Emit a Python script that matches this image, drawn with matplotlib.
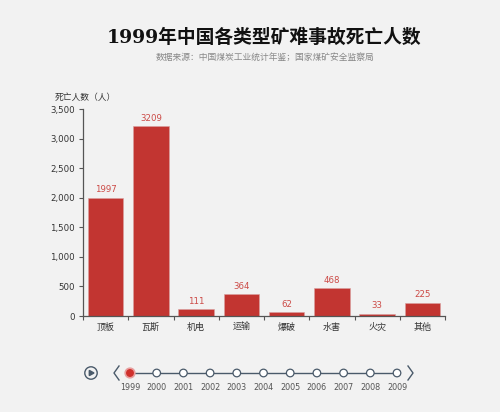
import matplotlib
matplotlib.use("Agg")
import matplotlib.pyplot as plt
from matplotlib.patches import Circle

plt.rcParams["font.family"] = ["Noto Sans CJK SC", "DejaVu Sans"]

# 1999 data
CATEGORIES = ["顶板", "瓦斯", "机电", "运输", "爆破", "水害", "火灾", "其他"]
DEATHS = [1997, 3209, 111, 364, 62, 468, 33, 225]
YEARS = ["1999", "2000", "2001", "2002", "2003", "2004", "2005",
         "2006", "2007", "2008", "2009"]
CURRENT_YEAR = "1999"

TITLE = "1999年中国各类型矿难事故死亡人数"
SUBTITLE = "数据来源：中国煤炭工业统计年鉴；国家煤矿安全监察局"
YLABEL = "死亡人数（人）"

BG = "#f2f2f2"
BAR = "#c23531"
AXIS = "#555555"

W, H = 500, 412
fig = plt.figure(figsize=(W / 100, H / 100), dpi=100, facecolor=BG)

ax = fig.add_axes([83 / W, 1 - 316 / H, 362 / W, 207 / H])
ax.set_facecolor(BG)
x = range(len(CATEGORIES))
ax.bar(x, DEATHS, width=0.78, color=BAR, edgecolor="#d9a0a0", linewidth=0.4)
for xi, v in zip(x, DEATHS):
    ax.text(xi, v + 60, str(v), ha="center", va="bottom",
            fontsize=6.2, color="#cc4a46", family="DejaVu Sans")
ax.set_xlim(-0.5, len(CATEGORIES) - 0.5)
ax.set_ylim(0, 3500)
ax.set_yticks(range(0, 3501, 500))
ax.set_yticklabels([f"{v:,}" for v in range(0, 3501, 500)],
                   fontsize=6.2, color="#333333", family="DejaVu Sans")
ax.set_xticks(list(x))
ax.set_xticklabels(CATEGORIES, fontsize=6.5, color="#333333")
ax.set_xticks([i - 0.5 for i in range(len(CATEGORIES) + 1)], minor=True)
ax.tick_params(axis="x", which="major", length=0, pad=5)
ax.tick_params(axis="x", which="minor", length=3, color=AXIS, width=0.8)
ax.tick_params(axis="y", length=3, color=AXIS, width=0.8, pad=3)
for s in ("top", "right"):
    ax.spines[s].set_visible(False)
for s in ("left", "bottom"):
    ax.spines[s].set_color(AXIS)
    ax.spines[s].set_linewidth(0.9)

# overlay in pixel coordinates for titles and timeline
ov = fig.add_axes([0, 0, 1, 1], facecolor="none")
ov.set_xlim(0, W)
ov.set_ylim(H, 0)
ov.axis("off")

ov.text(264, 38, TITLE, ha="center", va="center", fontsize=13.5,
        fontweight="bold", color="#111111",
        family=["DejaVu Serif", "Noto Sans CJK SC"])
ov.text(265, 57, SUBTITLE, ha="center", va="center", fontsize=6.3,
        color="#888888")
ov.text(55, 97, YLABEL, ha="left", va="center", fontsize=6.3, color="#333333")

# timeline
ty = 373
x0, x1 = 130, 397
step = (x1 - x0) / (len(YEARS) - 1)
xs = [x0 + i * step for i in range(len(YEARS))]
ov.plot([x0, x1], [ty, ty], color="#4a5a6a", lw=1.0, zorder=1)
for xi, yr in zip(xs, YEARS):
    if yr == CURRENT_YEAR:
        ov.add_patch(Circle((xi, ty), 4.8, facecolor="#d0302c",
                            edgecolor="#e8a0a0", lw=1.2, zorder=3))
    else:
        ov.add_patch(Circle((xi, ty), 3.8, facecolor="white",
                            edgecolor="#4a5a6a", lw=0.9, zorder=3))
    ov.text(xi, 388, yr, ha="center", va="center", fontsize=5.8,
            color="#555555", family="DejaVu Sans")

# play button
ov.add_patch(Circle((91, ty), 6.2, facecolor="none", edgecolor="#4a5a6a", lw=1.0))
ov.fill([89.3, 89.3, 94], [ty - 2.6, ty + 2.6, ty], color="#4a5a6a")
# prev / next arrows
ov.plot([119, 114, 119], [ty - 7, ty, ty + 7], color="#4a5a6a", lw=1.0)
ov.plot([408, 413, 408], [ty - 7, ty, ty + 7], color="#4a5a6a", lw=1.0)

fig.savefig("out.png", dpi=100, facecolor=BG)
